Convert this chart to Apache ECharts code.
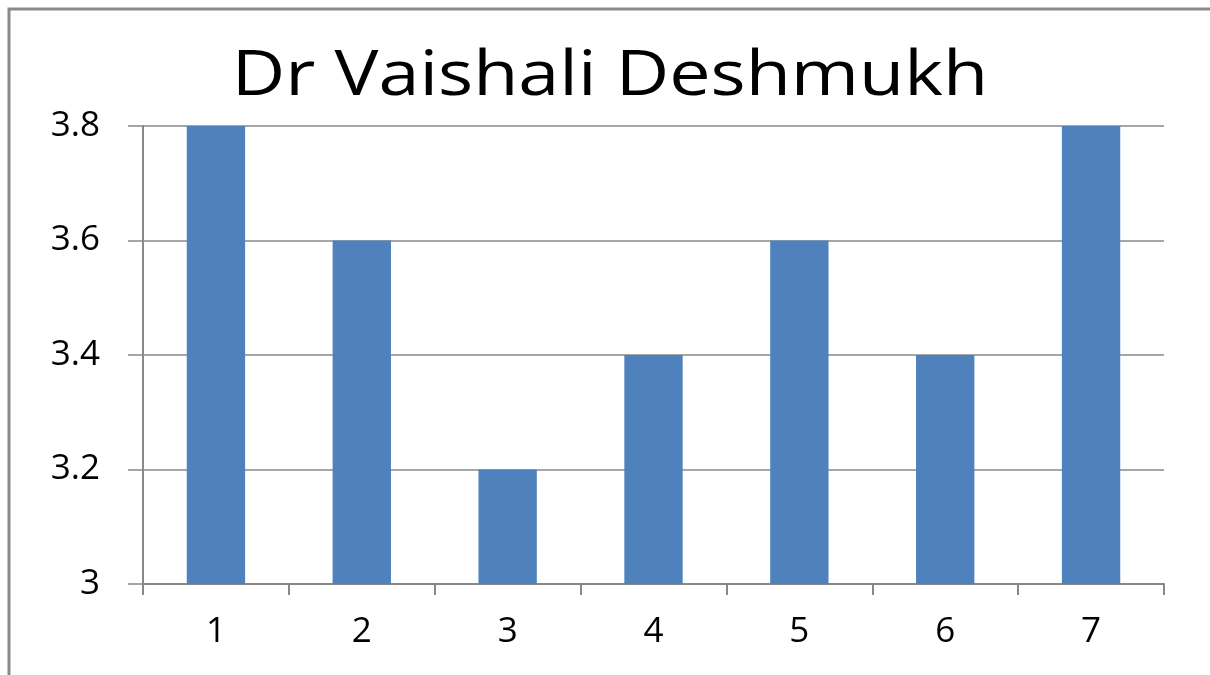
<!DOCTYPE html>
<html>
<head>
<meta charset="utf-8">
<script src="https://cdn.jsdelivr.net/npm/echarts@6/dist/echarts.min.js"></script>
<style>
html,body{margin:0;padding:0;background:#fff;}
#show{width:1210px;height:675px;}
</style>
</head>
<body>
<div id="show"></div>
<script>
var categories = ['1', '2', '3', '4', '5', '6', '7'];
var values = [3.8, 3.6, 3.2, 3.4, 3.6, 3.4, 3.8];
var yTicks = [3, 3.2, 3.4, 3.6, 3.8];
var chartTitle = 'Dr Vaishali Deshmukh';

var myChart = echarts.init(document.getElementById('show'));
var option = {
    animation: false,
    graphic: [{
        type: 'rect',
        shape: {x: 9, y: 9, width: 1300, height: 800},
        style: {fill: 'none', stroke: '#8a8a8a', lineWidth: 3},
        silent: true
    }, {
        // title, stretched a little wider like the original
        type: 'text',
        x: 610,
        y: 46,
        scaleX: 1.17,
        style: {
            text: chartTitle,
            x: 0, y: 0,
            align: 'center',
            verticalAlign: 'top',
            font: '63px "Open Sans"',
            fill: '#000'
        },
        silent: true
    }],
    grid: {left: 143, right: 46, top: 126, bottom: 91, containLabel: false},
    xAxis: {
        type: 'category',
        data: categories,
        axisLine: {lineStyle: {color: '#888', width: 2}},
        axisTick: {show: true, length: 11, lineStyle: {color: '#888', width: 2}},
        axisLabel: {fontFamily: 'Open Sans', fontSize: 35, color: '#000', margin: 31}
    },
    yAxis: {
        type: 'value',
        min: yTicks[0],
        max: yTicks[yTicks.length - 1],
        interval: 0.2,
        axisLine: {show: true, lineStyle: {color: '#888', width: 2}},
        axisTick: {show: true, length: 15, lineStyle: {color: '#888', width: 1.5}},
        splitLine: {lineStyle: {color: '#888', width: 1.5}},
        axisLabel: {
            fontFamily: 'Open Sans', fontSize: 35, color: '#000', margin: 43,
            formatter: function (v) { return String(Math.round(v * 10) / 10); }
        }
    },
    series: [{
        type: 'bar',
        data: values,
        barCategoryGap: '60%',
        itemStyle: {color: '#4f81bd'}
    }]
};
myChart.setOption(option);
</script>
</body>
</html>
